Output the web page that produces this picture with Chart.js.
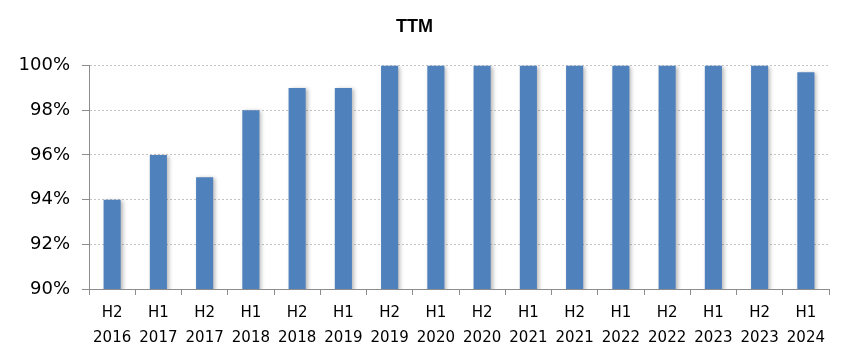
<!DOCTYPE html>
<html><head><meta charset="utf-8">
<script src="https://cdn.jsdelivr.net/npm/chart.js@4/dist/chart.umd.min.js"></script>
<style>html,body{margin:0;padding:0;background:#fff}#wrap{width:851px;height:359px}</style>
</head><body><div id="wrap"><canvas id="c" width="851" height="359"></canvas></div>
<script>
const halves = ["H2","H1","H2","H1","H2","H1","H2","H1","H2","H1","H2","H1","H2","H1","H2","H1"];
const years = ["2016","2017","2017","2018","2018","2019","2019","2020","2020","2021","2021","2022","2022","2023","2023","2024"];
const ttmValues = [94, 96, 95, 98, 99, 99, 100, 100, 100, 100, 100, 100, 100, 100, 100, 99.7];
const yTicks = [90, 92, 94, 96, 98, 100];
const chartTitle = "TTM";

const labels = halves.map((h, i) => [h, years[i]]);

const shadowPlugin = {
  id: 'barShadow',
  beforeDatasetsDraw(chart) {
    const ctx = chart.ctx;
    ctx.save();
    ctx.shadowColor = 'rgba(0,0,0,0.28)';
    ctx.shadowBlur = 4;
    ctx.shadowOffsetX = 2;
    ctx.shadowOffsetY = 1;
  },
  afterDatasetsDraw(chart) { chart.ctx.restore(); }
};

new Chart(document.getElementById('c'), {
  type: 'bar',
  data: {
    labels: labels,
    datasets: [{
      data: ttmValues,
      backgroundColor: '#4F81BD',
      borderWidth: 0,
      barPercentage: 0.37,
      categoryPercentage: 1
    }]
  },
  options: {
    responsive: false,
    animation: false,
    devicePixelRatio: 1,
    layout: { padding: { left: 0, right: 22, top: 0, bottom: 0 } },
    plugins: {
      legend: { display: false },
      tooltip: { enabled: false },
      title: {
        display: true,
        text: chartTitle,
        color: '#000',
        font: { family: 'Liberation Sans', size: 18, weight: 'bold' },
        padding: { top: 16, bottom: 28 }
      }
    },
    scales: {
      x: {
        border: { color: '#8c8c8c', width: 1 },
        grid: { offset: true, drawOnChartArea: false, drawTicks: true, tickLength: 6, color: '#8c8c8c' },
        ticks: { color: '#000', font: { family: 'DejaVu Sans', size: 15, lineHeight: 1.7 }, padding: 5, maxRotation: 0, autoSkip: false },
        afterFit(s) { s.height = 70; }
      },
      y: {
        min: 90, max: 100,
        afterBuildTicks(s) { s.ticks = yTicks.map(v => ({ value: v })); },
        border: { color: '#8c8c8c', width: 1, dash: [2, 2] },
        grid: { color: '#c4c4c4', tickLength: 7, tickColor: '#8c8c8c', tickBorderDash: [] },
        ticks: { color: '#000', font: { family: 'DejaVu Sans', size: 18 }, padding: 12, callback: v => v + '%' },
        afterFit(s) { s.width = 89; }
      }
    }
  },
  plugins: [shadowPlugin]
});
</script>
</body></html>
